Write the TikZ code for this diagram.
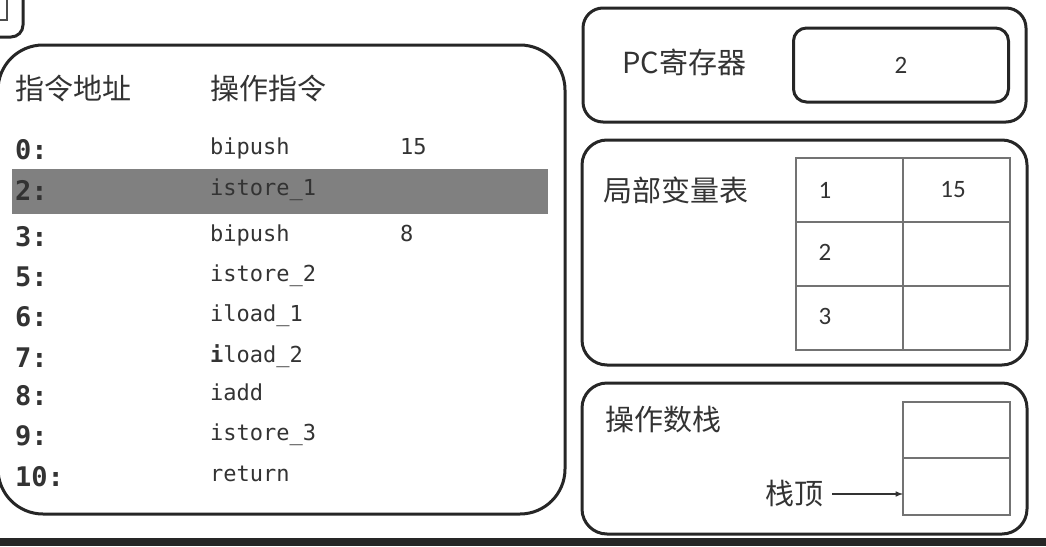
\documentclass[tikz,border=0pt]{standalone}
\usepackage{fontspec}
\setmainfont{Carlito}
\newfontfamily\cjkfont{Noto Sans CJK SC}
\newfontfamily\monofont{DejaVu Sans Mono}
\usetikzlibrary{arrows}

\begin{document}
\begin{tikzpicture}[x=1pt,y=-1pt]
	\tikzstyle{every node}+=[inner sep=0pt, text=black!80]
	\tikzstyle{panel}=[line width=3pt, draw=black!85]
	\tikzstyle{cell}=[line width=1.8pt, draw=black!55]
	\tikzstyle{cjk}=[anchor=west, font=\cjkfont\fontsize{29}{32}\selectfont]
	\tikzstyle{addr}=[anchor=base west, font=\monofont\bfseries\fontsize{27}{30}\selectfont]
	\tikzstyle{instr}=[anchor=base west, font=\monofont\fontsize{22}{26}\selectfont]
	\tikzstyle{val}=[font=\fontsize{25}{28}\selectfont]
	\useasboundingbox (0,0) rectangle (1046,546);
	\draw [panel, rounded corners=12pt] (-40,-40) rectangle (23,37);
	\draw [black!70, line width=1.5pt] (-10,20) -- (7,20) -- (7,-10);
	\draw [panel, rounded corners=45pt] (-2,45) rectangle (565,514);
	\fill [black!50] (12,169) rectangle (548,214);
	\node [cjk] (haddr) at (15,88) {指令地址};
	\node [cjk] (hinstr) at (210,88) {操作指令};
	\foreach \a/\o/\y in {0/bipush/159, 2/istore\_1/200, 3/bipush/246, 5/istore\_2/286, 6/iload\_1/326, 7/{\textbf{i}load\_2}/367, 8/iadd/405, 9/istore\_3/445, 10/return/486}
	{
		\node [addr] (a\a) at (15,\y) {\a:};
		\node [instr] (i\a) at (210,\y-5) {\o};
	}
	\node [instr] (v0) at (400,154) {15};
	\node [instr] (v3) at (400,241) {8};
	\draw [panel, rounded corners=20pt] (583,8) rectangle (1026,122);
	\node [cjk] (pc) at (622,62) {PC寄存器};
	\node [panel, rounded corners=13pt, minimum width=215pt, minimum height=74pt, val] (pcval) at (901,65) {2};
	\draw [panel, rounded corners=25pt] (582,140) rectangle (1027,365);
	\node [cjk] (lvt) at (603,190) {局部变量表};
	\draw [cell] (796,158) rectangle (1010,350);
	\draw [cell] (903,158) -- (903,350);
	\draw [cell] (796,222) -- (1010,222);
	\draw [cell] (796,286) -- (1010,286);
	\node [val] (s1) at (825,190) {1};
	\node [val] (lv1) at (953,190) {15};
	\node [val] (s2) at (825,252) {2};
	\node [val] (s3) at (825,316) {3};
	\draw [panel, rounded corners=25pt] (582,383) rectangle (1027,534);
	\node [cjk] (ops) at (605,420) {操作数栈};
	\draw [cell] (903,402) rectangle (1010,515);
	\draw [cell] (903,458) -- (1010,458);
	\node [cjk] (sttop) at (765,494) {栈顶};
	\coordinate (topcell) at (903,494);
	\draw [-latex, line width=1.5pt, black!80, shorten <=9pt] (sttop) -- (topcell);
	\fill [black!85] (0,538) rectangle (1046,546);
\end{tikzpicture}
\end{document}
